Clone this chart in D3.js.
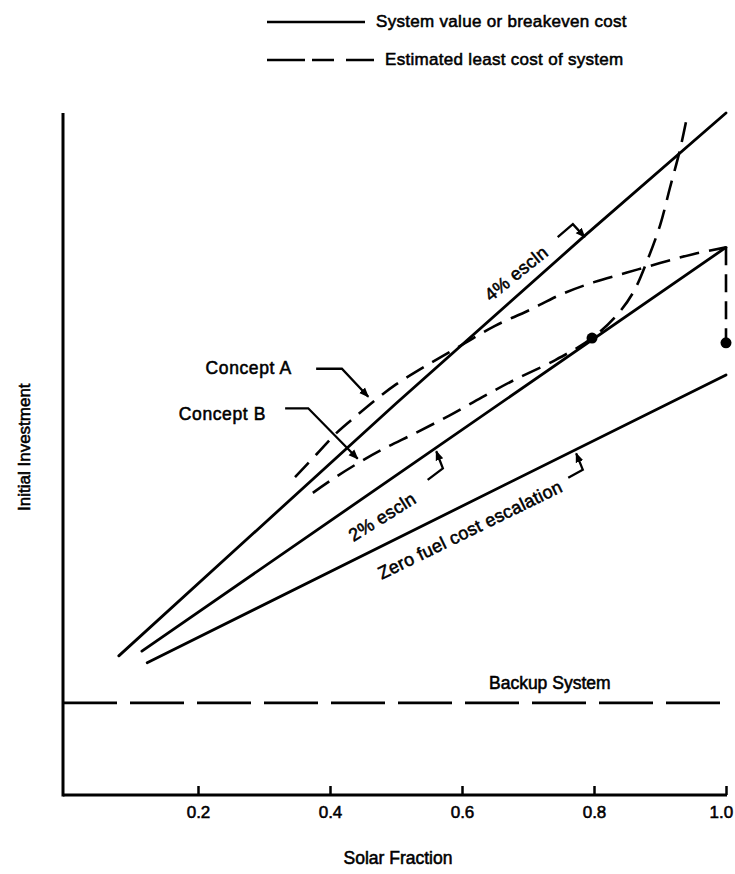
<!DOCTYPE html>
<html>
<head>
<meta charset="utf-8">
<script src="https://cdn.jsdelivr.net/npm/d3@7"></script>
<style>
  html, body { margin: 0; padding: 0; background: #fff; }
  svg text { font-family: "Liberation Sans", Arial, Helvetica, sans-serif; fill: #000; stroke: #000; stroke-width: 0.55px; }
</style>
</head>
<body>
<svg id="chart" width="735" height="874"></svg>
<script>
// ---------- data (x = solar fraction, y = relative initial investment, 0..1) ----------
const xTickValues = [0.2, 0.4, 0.6, 0.8, 1.0];
const xTickLabels = ["0.2", "0.4", "0.6", "0.8", "1.0"];

const escalation4 = [[0.08, 0.204], [0.5, 0.574], [0.78, 0.815], [1.0, 1.0]];
const escalation2 = [[0.115, 0.211], [1.0, 0.803]];
const escalation0 = [[0.123, 0.194], [1.0, 0.616]];
const backupLevel = 0.135;

const conceptA = [[0.347, 0.466], [0.38, 0.50], [0.41, 0.531], [0.44, 0.556], [0.47, 0.580],
  [0.50, 0.602], [0.55, 0.632], [0.60, 0.660], [0.65, 0.688], [0.70, 0.710], [0.75, 0.734],
  [0.80, 0.752], [0.85, 0.766], [0.90, 0.780], [0.95, 0.793], [1.0, 0.803]];
const conceptADrop = [[1.0, 0.803], [1.0, 0.663]];
const conceptB = [[0.374, 0.443], [0.41, 0.467], [0.445, 0.488], [0.48, 0.507], [0.53, 0.531],
  [0.58, 0.556], [0.63, 0.583], [0.68, 0.609], [0.74, 0.637], [0.797, 0.670], [0.835, 0.704],
  [0.86, 0.738], [0.88, 0.782], [0.90, 0.835], [0.915, 0.89], [0.93, 0.945], [0.94, 0.99]];
const optimumPoints = [[0.797, 0.670], [1.0, 0.663]];

const curveLabels = [
  { text: "4% escln", x: 0.682, y: 0.765, angle: -39 },
  { text: "2% escln", x: 0.479, y: 0.408, angle: -32 },
  { text: "Zero fuel cost escalation", x: 0.612, y: 0.389, angle: -26 }
];
const conceptLabels = [
  { text: "Concept A", x: 0.342, y: 0.626 },
  { text: "Concept B", x: 0.303, y: 0.559 }
];
const leaders = [
  [[0.379, 0.625], [0.418, 0.625], [0.458, 0.584]],
  [[0.332, 0.567], [0.367, 0.567], [0.442, 0.493]],
  [[0.745, 0.818], [0.768, 0.837], [0.786, 0.818]],
  [[0.548, 0.462], [0.571, 0.479], [0.561, 0.504]],
  [[0.761, 0.465], [0.783, 0.477], [0.773, 0.501]]
];
const backupLabel = { text: "Backup System", x: 0.733, y: 0.164 };
const legendItems = [
  { text: "System value or breakeven cost", dashed: false },
  { text: "Estimated least cost of system", dashed: true }
];

// ---------- layout ----------
const svg = d3.select("#chart");
const x = d3.scaleLinear().domain([0, 1]).range([66, 726]);
const y = d3.scaleLinear().domain([0, 1]).range([795, 113]);
const axisX0 = x(0) - 3;

svg.append("defs").append("marker")
  .attr("id", "arrow").attr("viewBox", "0 -5 10 10")
  .attr("refX", 9).attr("refY", 0)
  .attr("markerUnits", "userSpaceOnUse")
  .attr("markerWidth", 10).attr("markerHeight", 10)
  .attr("orient", "auto")
  .append("path").attr("d", "M0,-4L10,0L0,4Z").attr("fill", "#000");

const g = svg.append("g");

// axes
const xAxis = d3.axisBottom(x).tickValues(xTickValues)
  .tickFormat((d, i) => xTickLabels[i]).tickSizeInner(-9).tickSizeOuter(0).tickPadding(11);
const xg = g.append("g").attr("transform", `translate(0,${y(0)})`).call(xAxis);
xg.select(".domain").remove();
xg.selectAll(".tick line").attr("stroke", "#000").attr("stroke-width", 2.5);
xg.selectAll(".tick text").style("font-size", "17px").attr("font-family", null)
  .attr("dx", (d, i) => i === xTickValues.length - 1 ? "-0.3em" : null);

g.append("line").attr("x1", axisX0).attr("x2", x(1) + 1)
  .attr("y1", y(0)).attr("y2", y(0)).attr("stroke", "#000").attr("stroke-width", 3);
g.append("line").attr("x1", axisX0).attr("x2", axisX0)
  .attr("y1", y(0) + 1.5).attr("y2", y(1)).attr("stroke", "#000").attr("stroke-width", 3);

g.append("text").attr("x", 398).attr("y", 864)
  .attr("text-anchor", "middle").style("font-size", "17.5px").text("Solar Fraction");
g.append("text").attr("transform", `translate(30,${y(0.51)}) rotate(-90)`)
  .attr("text-anchor", "middle").style("font-size", "17px").text("Initial Investment");

// lines
const line = d3.line().x(d => x(d[0])).y(d => y(d[1]));
const smooth = d3.line().x(d => x(d[0])).y(d => y(d[1])).curve(d3.curveCatmullRom.alpha(0.5));

[escalation4, escalation2, escalation0].forEach(s => {
  g.append("path").attr("d", line(s)).attr("fill", "none")
    .attr("stroke", "#000").attr("stroke-width", 2.8).attr("stroke-linecap", "round");
});

g.append("line").attr("x1", axisX0).attr("x2", x(1))
  .attr("y1", y(backupLevel)).attr("y2", y(backupLevel))
  .attr("stroke", "#000").attr("stroke-width", 2.8).attr("stroke-dasharray", "54,13");

[conceptA, conceptB].forEach(s => {
  g.append("path").attr("d", smooth(s)).attr("fill", "none")
    .attr("stroke", "#000").attr("stroke-width", 2.6).attr("stroke-dasharray", "20,10");
});
g.append("path").attr("d", line(conceptADrop)).attr("fill", "none")
  .attr("stroke", "#000").attr("stroke-width", 2.6).attr("stroke-dasharray", "18,9");

g.selectAll("circle.opt").data(optimumPoints).join("circle")
  .attr("class", "opt").attr("cx", d => x(d[0])).attr("cy", d => y(d[1])).attr("r", 5.5).attr("fill", "#000");

// leaders
leaders.forEach(l => {
  g.append("path").attr("d", line(l)).attr("fill", "none")
    .attr("stroke", "#000").attr("stroke-width", 2.3).attr("marker-end", "url(#arrow)");
});

// labels
curveLabels.forEach(c => {
  g.append("text").attr("transform", `translate(${x(c.x)},${y(c.y)}) rotate(${c.angle})`)
    .attr("text-anchor", "middle").attr("dy", "0.35em").style("font-size", "18px")
    .style("letter-spacing", "0.3px").text(c.text);
});
conceptLabels.forEach(c => {
  g.append("text").attr("x", x(c.x)).attr("y", y(c.y)).attr("dy", "0.35em")
    .attr("text-anchor", "end").style("font-size", "17.5px").style("letter-spacing", "0.6px").text(c.text);
});
g.append("text").attr("x", x(backupLabel.x)).attr("y", y(backupLabel.y)).attr("dy", "0.35em")
  .attr("text-anchor", "middle").style("font-size", "17.5px").text(backupLabel.text);

// legend
const lg = svg.append("g").attr("transform", "translate(267,0)");
legendItems.forEach((it, i) => {
  const yy = 22 + i * 38;
  lg.append("line").attr("x1", 0).attr("x2", it.dashed ? 107 : 98).attr("y1", yy).attr("y2", yy)
    .attr("stroke", "#000").attr("stroke-width", 2.6)
    .attr("stroke-dasharray", it.dashed ? "38,7,22,12,28" : null);
  lg.append("text").attr("x", it.dashed ? 118 : 109).attr("y", yy + 5)
    .style("font-size", "17px").style("letter-spacing", "0.3px").text(it.text);
});
</script>
</body>
</html>
